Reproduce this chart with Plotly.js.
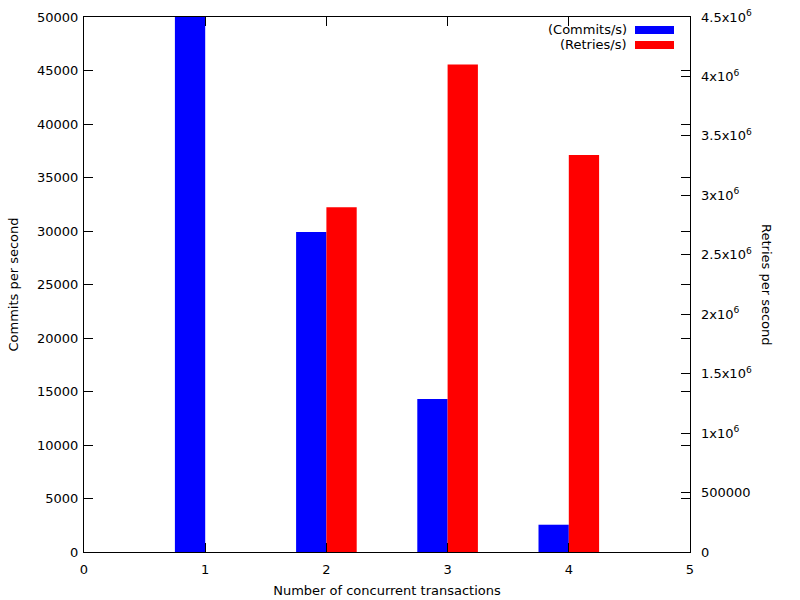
<!DOCTYPE html>
<html>
<head>
<meta charset="utf-8">
<script src="https://cdn.plot.ly/plotly-3.0.1.min.js"></script>
<style>html,body{margin:0;padding:0;background:#fff;}#chart{width:800px;height:600px;}</style>
</head>
<body>
<div id="chart"></div>
<script>
const transactions = [1, 2, 3, 4];
const commitsPerSec = [56000, 29900, 14300, 2550];
const retriesPerSec = [0, 2900000, 4100000, 3340000];
const seriesNames = ["(Commits/s)", "(Retries/s)"];
const seriesColors = ["#0000ff", "#ff0000"];
const y2TickVals = [0, 500000, 1000000, 1500000, 2000000, 2500000, 3000000, 3500000, 4000000, 4500000];
const y2TickText = ["0", "500000", "1x10<sup>6</sup>", "1.5x10<sup>6</sup>", "2x10<sup>6</sup>", "2.5x10<sup>6</sup>", "3x10<sup>6</sup>", "3.5x10<sup>6</sup>", "4x10<sup>6</sup>", "4.5x10<sup>6</sup>"];

const font = {family: "DejaVu Sans, sans-serif", size: 13, color: "#000"};

const traces = [
  {type: "bar", x: transactions, y: commitsPerSec, name: seriesNames[0], marker: {color: seriesColors[0], line: {width: 0}}, width: 0.25, offset: -0.25, yaxis: "y", showlegend: false},
  {type: "bar", x: transactions, y: retriesPerSec, name: seriesNames[1], marker: {color: seriesColors[1], line: {width: 0}}, width: 0.25, offset: 0, yaxis: "y2", showlegend: false}
];

const axisCommon = {showline: true, linecolor: "#000", linewidth: 1, ticks: "inside", ticklen: 9, tickcolor: "#000", showgrid: false, zeroline: false, tickfont: font};

const layout = {
  width: 800, height: 600,
  margin: {l: 84, r: 110, t: 17, b: 48},
  paper_bgcolor: "#fff", plot_bgcolor: "#fff",
  font: font,
  barmode: "overlay",
  xaxis: Object.assign({}, axisCommon, {range: [0, 5], dtick: 1, tick0: 0, mirror: "ticks", ticklabelstandoff: 5, title: {text: "Number of concurrent transactions", font: font, standoff: 10}}),
  yaxis: Object.assign({}, axisCommon, {range: [0, 50000], dtick: 5000, tick0: 0, mirror: "ticks", tickformat: "d", ticklabelstandoff: 2, title: {text: "Commits per second", font: font, standoff: 15}}),
  yaxis2: Object.assign({}, axisCommon, {overlaying: "y", side: "right", range: [0, 4500000], tickmode: "array", tickvals: y2TickVals, ticktext: y2TickText, showline: false, ticklabelstandoff: 10}),
  annotations: [
    {xref: "paper", yref: "paper", x: (767 - 84) / 606, y: (552 - 285) / 535, text: "Retries per second", textangle: 90, showarrow: false, xanchor: "center", yanchor: "middle", font: font},
    {xref: "paper", yref: "paper", x: (629 - 84) / 606, y: (552 - 30) / 535, text: seriesNames[0], showarrow: false, xanchor: "right", yanchor: "middle", font: font},
    {xref: "paper", yref: "paper", x: (629 - 84) / 606, y: (552 - 45) / 535, text: seriesNames[1], showarrow: false, xanchor: "right", yanchor: "middle", font: font}
  ],
  shapes: [
    {type: "rect", xref: "paper", yref: "paper", x0: (635 - 84) / 606, x1: (674 - 84) / 606, y0: (552 - 34) / 535, y1: (552 - 26) / 535, fillcolor: seriesColors[0], line: {width: 0}},
    {type: "rect", xref: "paper", yref: "paper", x0: (635 - 84) / 606, x1: (674 - 84) / 606, y0: (552 - 49) / 535, y1: (552 - 41) / 535, fillcolor: seriesColors[1], line: {width: 0}}
  ]
};

Plotly.newPlot("chart", traces, layout, {staticPlot: true, displayModeBar: false});
</script>
</body>
</html>
